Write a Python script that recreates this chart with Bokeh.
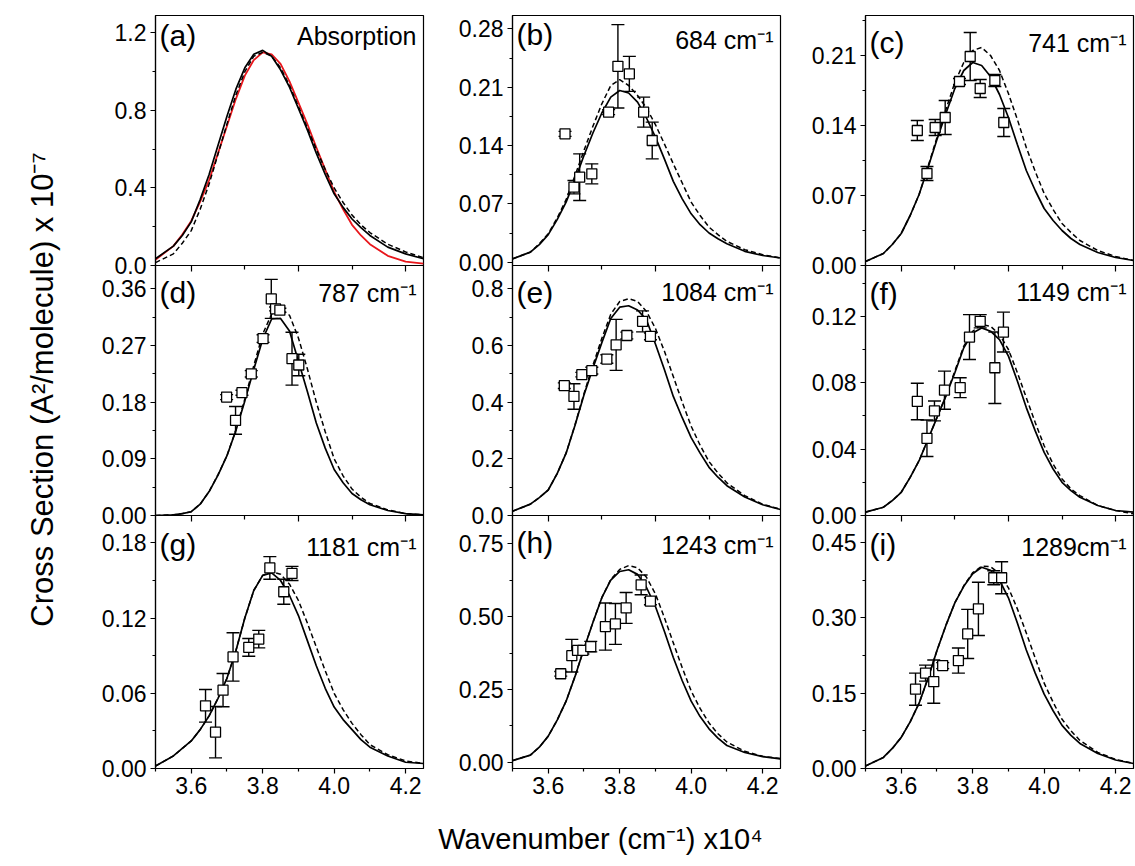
import math
from bokeh.plotting import figure
from bokeh.models import ColumnDataSource, Range1d, FixedTicker, LinearAxis, Whisker, TeeHead, Label
from bokeh.layouts import row, column
from bokeh.embed import file_html
from bokeh.resources import INLINE

FONT = "Liberation Sans"

# ---------------- data ----------------
WN = [3.50, 3.55, 3.575, 3.60, 3.625, 3.65, 3.675, 3.70, 3.725, 3.75, 3.775, 3.80, 3.825,
      3.85, 3.875, 3.90, 3.925, 3.95, 3.975, 4.00, 4.025, 4.05, 4.075, 4.10, 4.15, 4.20, 4.25]

X_TICKS = [3.6, 3.8, 4.0, 4.2]
X_TICK_LABELS = ["3.6", "3.8", "4.0", "4.2"]
X_MINOR = [3.5, 3.7, 3.9, 4.1]
INNER_TICKS = [3.6, 3.9, 4.2]
INNER_MINOR = [3.75, 4.05]

# (a) absorption
A_CALC = [.035, .10, .155, .225, .34, .47, .62, .77, .91, 1.02, 1.09, 1.11, 1.08, 1.01,
          .92, .81, .70, .58, .47, .37, .30, .24, .195, .155, .095, .06, .035]
A_DASH = [.015, .06, .115, .18, .29, .42, .575, .73, .88, 1.00, 1.08, 1.10, 1.08, 1.02,
          .93, .82, .71, .60, .495, .40, .325, .26, .21, .17, .11, .07, .04]
A_EXPT = [.03, .10, .16, .23, .33, .44, .58, .72, .86, .98, 1.06, 1.10, 1.09, 1.04,
          .95, .84, .73, .61, .495, .38, .29, .21, .155, .11, .05, .02, .01]

# (b) 684
B_CALC = [.004, .012, .021, .033, .051, .072, .099, .128, .155, .179, .198, .206, .203, .192,
          .173, .150, .124, .097, .076, .058, .045, .035, .028, .022, .013, .008, .005]
B_DASH = [.004, .012, .022, .034, .053, .075, .104, .134, .163, .190, .212, .219, .212, .200,
          .185, .165, .142, .118, .095, .072, .056, .042, .033, .025, .015, .009, .005]
B_X = [3.647, 3.672, 3.688, 3.722, 3.769, 3.795, 3.827, 3.867, 3.891]
B_Y = [.154, .090, .102, .106, .180, .235, .226, .180, .146]
B_ERR = [.003, .008, .028, .012, .003, .050, .021, .018, .022]

# (c) 741
C_CALC = [.004, .012, .021, .032, .050, .071, .098, .126, .152, .177, .195, .203, .200, .189,
          .171, .148, .121, .095, .075, .057, .045, .035, .027, .021, .013, .008, .005]
C_DASH = [.004, .012, .021, .032, .050, .071, .099, .128, .156, .183, .203, .215, .218, .210,
          .195, .172, .146, .118, .094, .072, .056, .042, .033, .025, .015, .009, .005]
C_X = [3.645, 3.672, 3.695, 3.723, 3.763, 3.793, 3.821, 3.862, 3.887]
C_Y = [.135, .092, .138, .148, .184, .209, .177, .185, .143]
C_ERR = [.010, .007, .008, .017, .003, .024, .009, .006, .014]

# (d) 787
D_CALC = [.000, .001, .003, .006, .018, .038, .064, .095, .135, .182, .232, .280, .312, .313,
          .293, .245, .197, .147, .107, .073, .052, .035, .025, .017, .008, .003, .001]
D_DASH = [.000, .001, .003, .006, .018, .038, .065, .095, .136, .185, .238, .288, .320, .328,
          .318, .282, .233, .180, .133, .090, .063, .042, .029, .019, .009, .003, .001]
D_X = [3.699, 3.724, 3.742, 3.768, 3.801, 3.824, 3.836, 3.848, 3.882, 3.901]
D_Y = [.188, .151, .195, .225, .281, .344, .328, .326, .249, .239]
D_ERR = [.004, .022, .004, .005, .006, .031, .003, .003, .042, .017]

# (e) 1084
E_CALC = [.015, .04, .063, .09, .148, .22, .318, .425, .52, .61, .695, .735, .74, .725,
          .69, .605, .515, .42, .345, .275, .22, .17, .135, .105, .065, .038, .021]
E_DASH = [.015, .04, .063, .09, .148, .22, .32, .43, .53, .625, .71, .755, .765, .755,
          .72, .66, .58, .49, .40, .315, .248, .19, .15, .115, .07, .04, .022]
E_X = [3.645, 3.672, 3.694, 3.722, 3.764, 3.790, 3.820, 3.864, 3.886]
E_Y = [.458, .420, .497, .511, .552, .602, .635, .685, .632]
E_ERR = [.010, .045, .008, .012, .015, .090, .012, .037, .012]

# (f) 1149
F_CALC = [.002, .005, .009, .014, .023, .033, .046, .059, .072, .086, .101, .110, .113, .111,
          .106, .096, .081, .065, .051, .038, .028, .020, .015, .011, .006, .003, .002]
F_DASH = [.002, .005, .009, .014, .023, .033, .046, .059, .072, .087, .102, .111, .115, .114,
          .109, .100, .086, .071, .056, .042, .031, .022, .016, .012, .006, .003, .001]
F_X = [3.645, 3.672, 3.693, 3.721, 3.765, 3.791, 3.821, 3.862, 3.886]
F_Y = [.0687, .0465, .063, .0755, .077, .1075, .117, .089, .1105]
F_ERR = [.011, .011, .006, .0115, .006, .0135, .004, .0215, .012]

# (g) 1181
G_CALC = [.002, .010, .016, .022, .031, .042, .056, .072, .094, .120, .142, .154, .156, .150,
          .138, .122, .102, .082, .064, .049, .039, .031, .023, .017, .010, .005, .004]
G_DASH = [.002, .010, .016, .022, .031, .042, .056, .072, .094, .120, .142, .154, .157, .155,
          .147, .134, .116, .097, .078, .060, .047, .036, .027, .019, .011, .006, .004]
G_X = [3.640, 3.668, 3.689, 3.717, 3.761, 3.789, 3.820, 3.859, 3.882]
G_Y = [.050, .029, .0625, .089, .0966, .1032, .160, .141, .1556]
G_ERR = [.013, .0205, .0133, .0193, .0071, .007, .009, .010, .0056]

# (h) 1243
H_CALC = [.006, .025, .052, .09, .145, .21, .295, .39, .48, .565, .625, .655, .661, .645,
          .60, .535, .45, .36, .28, .21, .157, .115, .083, .058, .034, .02, .012]
H_DASH = [.006, .025, .052, .09, .145, .21, .295, .39, .48, .565, .628, .662, .675, .668,
          .635, .578, .497, .41, .325, .245, .185, .135, .098, .07, .038, .021, .013]
H_X = [3.635, 3.666, 3.682, 3.697, 3.719, 3.760, 3.788, 3.818, 3.860, 3.886]
H_Y = [.304, .366, .384, .384, .397, .466, .475, .530, .609, .553]
H_ERR = [.008, .056, .012, .012, .018, .081, .070, .053, .034, .012]

# (i) 1289
I_CALC = [.005, .022, .04, .062, .093, .13, .18, .235, .285, .33, .363, .388, .401, .395,
          .375, .34, .29, .236, .19, .148, .115, .086, .066, .05, .03, .017, .01]
I_DASH = [.005, .022, .04, .062, .093, .13, .18, .235, .285, .33, .364, .39, .403, .402,
          .388, .36, .318, .27, .22, .17, .132, .098, .075, .056, .032, .018, .01]
I_X = [3.640, 3.668, 3.691, 3.716, 3.760, 3.786, 3.816, 3.859, 3.881]
I_Y = [.158, .190, .173, .205, .215, .268, .318, .380, .380]
I_ERR = [.032, .016, .043, .006, .025, .049, .053, .014, .032]

LETTERS = ["(a)", "(b)", "(c)", "(d)", "(e)", "(f)", "(g)", "(h)", "(i)"]
MODES = ["Absorption", "684 cm\u207b\u00b9", "741 cm\u207b\u00b9", "787 cm\u207b\u00b9",
         "1084 cm\u207b\u00b9", "1149 cm\u207b\u00b9", "1181 cm\u207b\u00b9",
         "1243 cm\u207b\u00b9", "1289cm\u207b\u00b9"]

Y_TICKS = [
    [0.0, 0.4, 0.8, 1.2],
    [0.0, 0.07, 0.14, 0.21, 0.28],
    [0.0, 0.07, 0.14, 0.21],
    [0.0, 0.09, 0.18, 0.27, 0.36],
    [0.0, 0.2, 0.4, 0.6, 0.8],
    [0.0, 0.04, 0.08, 0.12],
    [0.0, 0.06, 0.12, 0.18],
    [0.0, 0.25, 0.50, 0.75],
    [0.0, 0.15, 0.30, 0.45],
]
Y_TICK_LABELS = [
    ["0.0", "0.4", "0.8", "1.2"],
    ["0.00", "0.07", "0.14", "0.21", "0.28"],
    ["0.00", "0.07", "0.14", "0.21"],
    ["0.00", "0.09", "0.18", "0.27", "0.36"],
    ["0.0", "0.2", "0.4", "0.6", "0.8"],
    ["0.00", "0.04", "0.08", "0.12"],
    ["0.00", "0.06", "0.12", "0.18"],
    ["0.00", "0.25", "0.50", "0.75"],
    ["0.00", "0.15", "0.30", "0.45"],
]
Y_RANGES = [(0, 1.29), (-0.004, 0.296), (0, 0.25), (0, 0.397), (0, 0.882),
            (0, 0.1506), (0, 0.2018), (-0.021, 0.847), (0, 0.504)]

X_LABEL = "Wavenumber (cm\u207b\u00b9) x10\u2074"
Y_LABEL = "Cross Section (A\u00b2/molecule) x 10\u207b\u2077"

PANELS = [
    dict(calc=A_CALC, dash=A_DASH, expt=A_EXPT),
    dict(calc=B_CALC, dash=B_DASH, px=B_X, py=B_Y, err=B_ERR),
    dict(calc=C_CALC, dash=C_DASH, px=C_X, py=C_Y, err=C_ERR),
    dict(calc=D_CALC, dash=D_DASH, px=D_X, py=D_Y, err=D_ERR),
    dict(calc=E_CALC, dash=E_DASH, px=E_X, py=E_Y, err=E_ERR),
    dict(calc=F_CALC, dash=F_DASH, px=F_X, py=F_Y, err=F_ERR),
    dict(calc=G_CALC, dash=G_DASH, px=G_X, py=G_Y, err=G_ERR),
    dict(calc=H_CALC, dash=H_DASH, px=H_X, py=H_Y, err=H_ERR),
    dict(calc=I_CALC, dash=I_DASH, px=I_X, py=I_Y, err=I_ERR),
]

# ---------------- styling / layout ----------------
FW = 268
LEFT_BORDERS = [75, 87, 83]
RIGHT_BORDER = 2
OVERLAP = 14                      # room below a frame for its lowest tick label
ROW_TOP = [15, 0, 0]
ROW_BOTTOM = [OVERLAP, OVERLAP, 40]
ROW_FH = [250, 250, 253]
ROW_MARGIN = [None, (-OVERLAP, 0, 0, 0), (-OVERLAP, 0, 0, 0)]
LETTER_TOP = [3, 2, 10, 10, 10, 11, 12, 10, 12]   # px below frame top
MODE_TOP = [6, 10, 13, 13, 12, 12, 17, 15, 17]
TICK_FS = "23px"


def make_panel(i):
    r, c = divmod(i, 3)
    d = PANELS[i]
    y0, y1 = Y_RANGES[i]
    fh = ROW_FH[r]
    width = LEFT_BORDERS[c] + FW + RIGHT_BORDER
    height = ROW_TOP[r] + fh + ROW_BOTTOM[r]
    p = figure(width=width, height=height,
               x_range=Range1d(3.5, 4.25), y_range=Range1d(y0, y1),
               output_backend="svg", toolbar_location=None,
               x_axis_location="below" if r == 2 else None,
               y_axis_location="left",
               min_border_left=LEFT_BORDERS[c], min_border_right=RIGHT_BORDER,
               min_border_top=ROW_TOP[r], min_border_bottom=ROW_BOTTOM[r])
    p.grid.visible = False
    p.outline_line_color = "black"
    p.outline_line_width = 1.2
    p.outline_line_alpha = 1.0
    p.background_fill_color = None
    p.border_fill_color = None

    # y axis
    ticks = Y_TICKS[i]
    step = ticks[1] - ticks[0]
    minors = [t + step / 2 for t in ticks]
    ya = p.yaxis[0]
    ya.ticker = FixedTicker(ticks=ticks, minor_ticks=minors)
    ya.major_label_overrides = dict(zip(ticks, Y_TICK_LABELS[i]))
    ya.major_label_text_font = FONT
    ya.major_label_text_font_size = TICK_FS
    ya.major_label_text_color = "black"
    ya.major_tick_out = 5
    ya.major_tick_in = 0
    ya.minor_tick_out = 3
    ya.minor_tick_in = 0
    ya.major_label_standoff = 4
    ya.axis_line_color = "black"
    ya.axis_line_width = 1.2
    ya.major_tick_line_width = 1.2
    ya.minor_tick_line_width = 1.2

    if r == 2:
        xa = p.xaxis[0]
        xa.ticker = FixedTicker(ticks=X_TICKS, minor_ticks=X_MINOR)
        xa.major_label_overrides = dict(zip(X_TICKS, X_TICK_LABELS))
        xa.major_label_text_font = FONT
        xa.major_label_text_font_size = TICK_FS
        xa.major_label_text_color = "black"
        xa.major_tick_out = 5
        xa.major_tick_in = 0
        xa.minor_tick_out = 3
        xa.minor_tick_in = 0
        xa.major_label_standoff = 3
        xa.axis_line_color = "black"
        xa.axis_line_width = 1.2
        xa.major_tick_line_width = 1.2
        xa.minor_tick_line_width = 1.2
    if r > 0:
        ta = LinearAxis(ticker=FixedTicker(ticks=INNER_TICKS, minor_ticks=INNER_MINOR),
                        major_tick_in=6, major_tick_out=0, minor_tick_in=4, minor_tick_out=0,
                        axis_line_color=None, major_label_standoff=0,
                        major_label_text_font_size="0px",
                        major_label_overrides={t: "" for t in INNER_TICKS},
                        major_tick_line_width=1.2, minor_tick_line_width=1.2)
        p.add_layout(ta, "above")

    # curves
    if "expt" in d:
        p.line(WN, d["expt"], line_color="#e8161b", line_width=1.8)
    p.line(WN, d["dash"], line_color="black", line_width=1.5, line_dash="5 3")
    p.line(WN, d["calc"], line_color="black", line_width=1.7)

    # data with error bars
    if "px" in d:
        lower = [y - e for y, e in zip(d["py"], d["err"])]
        upper = [y + e for y, e in zip(d["py"], d["err"])]
        src = ColumnDataSource(dict(x=d["px"], y=d["py"], lower=lower, upper=upper))
        wh = Whisker(base="x", lower="lower", upper="upper", source=src,
                     line_color="black", line_width=1.4,
                     upper_head=TeeHead(size=13, line_color="black", line_width=1.4),
                     lower_head=TeeHead(size=13, line_color="black", line_width=1.4))
        p.add_layout(wh)
        p.scatter("x", "y", source=src, marker="square", size=10,
                  fill_color="white", line_color="black", line_width=1.3)

    # texts
    xpp = FW / 0.75
    ypp = fh / (y1 - y0)
    p.add_layout(Label(x=3.5 + 4 / xpp, y=y1 - LETTER_TOP[i] / ypp, text=LETTERS[i],
                       text_font=FONT, text_font_size="30px", text_color="black",
                       text_align="left", text_baseline="top"))
    p.add_layout(Label(x=4.25 - 7 / xpp, y=y1 - MODE_TOP[i] / ypp, text=MODES[i],
                       text_font=FONT, text_font_size="25px", text_color="black",
                       text_align="right", text_baseline="top"))
    return p


panels = [make_panel(i) for i in range(9)]
grid_rows = []
for k in range(3):
    kw = {} if ROW_MARGIN[k] is None else {"margin": ROW_MARGIN[k]}
    grid_rows.append(row(*panels[k * 3:(k + 1) * 3], spacing=0, **kw))

GRID_W = sum(LEFT_BORDERS) + 3 * (FW + RIGHT_BORDER)
XLAB_H = 55
TOTAL_H = sum(ROW_TOP) + sum(ROW_FH) + sum(ROW_BOTTOM) - 2 * OVERLAP + XLAB_H
YLAB_W = 80

xlab = figure(width=GRID_W, height=XLAB_H, x_range=Range1d(0, GRID_W), y_range=Range1d(0, XLAB_H),
              output_backend="svg", toolbar_location=None,
              x_axis_location=None, y_axis_location=None, min_border=0)
xlab.grid.visible = False
xlab.outline_line_color = None
xlab.add_layout(Label(x=520, y=XLAB_H - 30, text=X_LABEL, text_font=FONT, text_font_size="29px",
                      text_color="black", text_align="center", text_baseline="middle"))

ylab = figure(width=YLAB_W, height=TOTAL_H, x_range=Range1d(0, YLAB_W), y_range=Range1d(0, TOTAL_H),
              output_backend="svg", toolbar_location=None,
              x_axis_location=None, y_axis_location=None, min_border=0)
ylab.grid.visible = False
ylab.outline_line_color = None
ylab.add_layout(Label(x=42, y=TOTAL_H - 389, text=Y_LABEL, text_font=FONT, text_font_size="31px",
                      text_color="black", text_align="center", text_baseline="middle",
                      angle=math.pi / 2))

layout = row(ylab, column(*grid_rows, xlab, spacing=0), spacing=0)

open("out.html", "w").write(file_html(layout, INLINE))
